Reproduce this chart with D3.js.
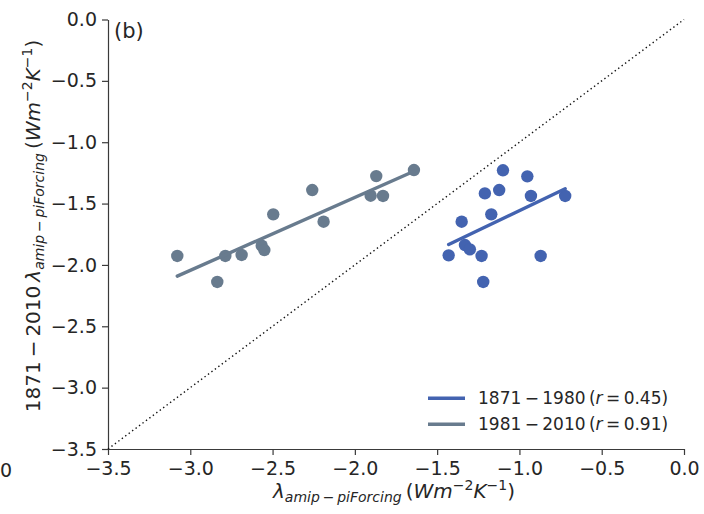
<!DOCTYPE html>
<html>
<head>
<meta charset="utf-8">
<script src="https://cdn.jsdelivr.net/npm/d3@7"></script>
<style>
  html, body { margin: 0; padding: 0; background: #fff; }
  svg { display: block; font-family: "DejaVu Sans", sans-serif; }
</style>
</head>
<body>
<svg id="chart" width="704" height="514"></svg>
<script>
// Feedback parameter pairs: x = amip-piForcing over the sub-period, y = 1871-2010 value
const early_x = [-1.100, -0.952, -1.210, -1.123, -0.930, -0.722, -1.351, -1.171, -1.331, -1.301, -1.430, -1.230, -0.871, -1.220];
const early_y = [-1.229, -1.278, -1.417, -1.390, -1.438, -1.438, -1.648, -1.588, -1.838, -1.873, -1.922, -1.927, -1.927, -2.139];
const late_x = [-3.079, -2.836, -2.787, -2.688, -2.566, -2.550, -2.496, -2.259, -2.190, -1.904, -1.870, -1.829, -1.641];
const late_y = [-1.927, -2.139, -1.927, -1.919, -1.843, -1.879, -1.588, -1.390, -1.648, -1.436, -1.276, -1.438, -1.227];
const periods = ["1871\u2009\u2212\u20091980", "1981\u2009\u2212\u20092010"];
const r_values = ["0.45", "0.91"];
const colors = ["#4363b0", "#687b8e"];
const ticks = [-3.5, -3.0, -2.5, -2.0, -1.5, -1.0, -0.5, 0.0];

const svg = d3.select("#chart");
const x = d3.scaleLinear().domain([-3.5, 0]).range([108, 684]);
const y = d3.scaleLinear().domain([-3.5, 0]).range([449, 19.5]);
const fmt = d3.format(".1f");

// axes (left and bottom spines only)
const gx = svg.append("g").attr("transform", "translate(0,449)")
  .call(d3.axisBottom(x).tickValues(ticks).tickFormat(fmt).tickSize(6).tickSizeOuter(0).tickPadding(7));
const gy = svg.append("g").attr("transform", "translate(108,0)")
  .call(d3.axisLeft(y).tickValues(ticks).tickFormat(fmt).tickSize(6).tickSizeOuter(0).tickPadding(5));
[gx, gy].forEach(g => {
  g.select(".domain").attr("stroke", "#3a3a3a").attr("stroke-width", 1.2);
  g.selectAll(".tick line").attr("stroke", "#3a3a3a").attr("stroke-width", 1.2);
  g.selectAll(".tick text").attr("fill", "#262626").style("font-size", "19px")
    .style("font-family", "DejaVu Sans");
});

// 1:1 line
svg.append("line")
  .attr("x1", x(-3.5)).attr("y1", y(-3.5)).attr("x2", x(0)).attr("y2", y(0))
  .attr("stroke", "#111").attr("stroke-width", 1.4).attr("stroke-dasharray", "1.4,2.9");

// least-squares fit drawn over the range of the data
function fit(xs, ys) {
  const mx = d3.mean(xs), my = d3.mean(ys);
  const sxy = d3.sum(xs, (v, i) => (v - mx) * (ys[i] - my));
  const sxx = d3.sum(xs, v => (v - mx) * (v - mx));
  const b = sxy / sxx, a = my - b * mx;
  const [x0, x1] = d3.extent(xs);
  return [[x0, a + b * x0], [x1, a + b * x1]];
}

const groups = [[early_x, early_y], [late_x, late_y]];
groups.forEach(([xs, ys], k) => {
  svg.append("g").selectAll("circle").data(xs).join("circle")
    .attr("cx", d => x(d)).attr("cy", (d, i) => y(ys[i])).attr("r", 6.2)
    .attr("fill", colors[k]);
});
const line = d3.line().x(d => x(d[0])).y(d => y(d[1]));
groups.forEach(([xs, ys], k) => {
  svg.append("path").attr("d", line(fit(xs, ys)))
    .attr("stroke", colors[k]).attr("stroke-width", 3.4).attr("fill", "none")
    .attr("stroke-linecap", "round");
});

// panel tag
svg.append("text").attr("x", 114).attr("y", 38).attr("fill", "#262626")
  .style("font-size", "21px").text("(b)");

// legend
periods.forEach((p, k) => {
  const ly = 398.3 + k * 26;
  svg.append("line").attr("x1", 428).attr("x2", 465).attr("y1", ly).attr("y2", ly)
    .attr("stroke", colors[k]).attr("stroke-width", 3.4);
  const t = svg.append("text").attr("x", 478).attr("y", ly + 6).attr("fill", "#262626")
    .style("font-size", "17px");
  t.append("tspan").text(p + "\u2009(");
  t.append("tspan").style("font-style", "italic").text("r");
  t.append("tspan").text("\u2009=\u2009" + r_values[k] + ")");
});

// axis labels with sub/superscripts
function mathLabel(t, prefix, size) {
  const sub = size * 0.7;
  if (prefix) t.append("tspan").text(prefix);
  t.append("tspan").style("font-style", "italic").text("\u03bb");
  t.append("tspan").attr("dy", size * 0.22).style("font-size", sub + "px").style("font-style", "italic").text("amip");
  t.append("tspan").style("font-size", sub + "px").text("\u2009\u2212\u2009");
  t.append("tspan").style("font-size", sub + "px").style("font-style", "italic").text("piForcing");
  t.append("tspan").attr("dy", -size * 0.22).text("\u2009(");
  t.append("tspan").style("font-style", "italic").text("Wm");
  t.append("tspan").attr("dy", -size * 0.4).style("font-size", sub + "px").text("\u22122");
  t.append("tspan").attr("dy", size * 0.4).style("font-style", "italic").text("K");
  t.append("tspan").attr("dy", -size * 0.4).style("font-size", sub + "px").text("\u22121");
  t.append("tspan").attr("dy", size * 0.4).text(")");
}
const xl = svg.append("text").attr("x", 394).attr("y", 498).attr("text-anchor", "middle")
  .attr("fill", "#262626").style("font-size", "20px");
mathLabel(xl, null, 20);
const yl = svg.append("text").attr("transform", "translate(40,226) rotate(-90)")
  .attr("text-anchor", "middle").attr("fill", "#262626").style("font-size", "20px");
mathLabel(yl, "1871\u2009\u2212\u20092010\u2009", 20);

// stray tick label at the lower-left edge
svg.append("text").attr("x", 0).attr("y", 477).attr("fill", "#262626")
  .style("font-size", "19px").text("0");
</script>
</body>
</html>
